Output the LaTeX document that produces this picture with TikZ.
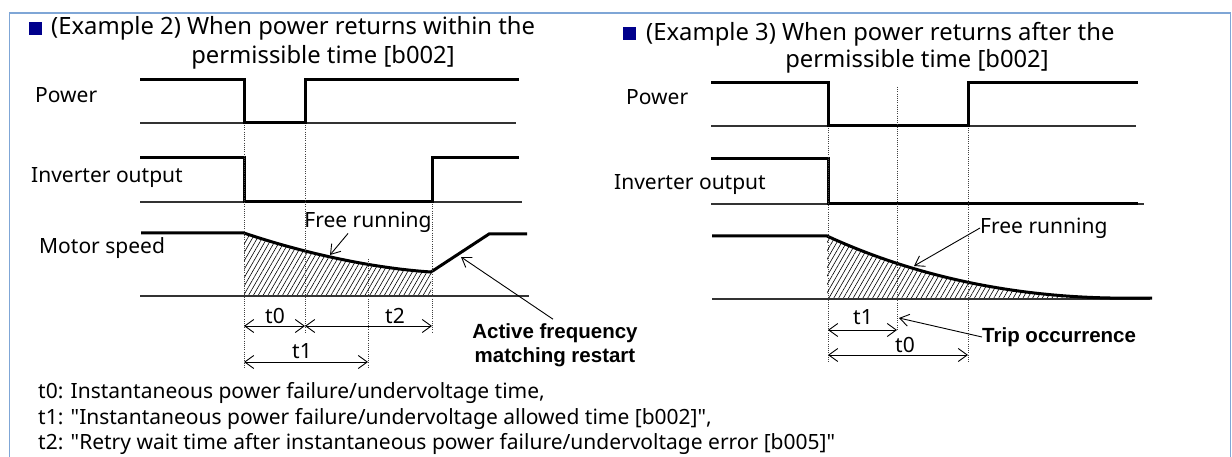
\documentclass[tikz,border=0pt]{standalone}
\usepackage{fontspec}
\setmainfont{Noto Sans}[Ligatures=TeXOff]
\newfontfamily\arialf{Liberation Sans}
\usetikzlibrary{arrows.meta,patterns.meta,calc}
\definecolor{framecol}{RGB}{127,166,214}
\definecolor{navysq}{RGB}{0,0,140}
\begin{document}
\begin{tikzpicture}[x=1pt,y=-1pt,
  sig/.style={line width=3pt, line join=miter, line cap=butt},
  baseln/.style={line width=1.2pt, draw=black!80},
  vdot/.style={line width=0.8pt, draw=black!75, dash pattern=on 1pt off 1.2pt},
  dimarr/.style={line width=0.9pt, {Straight Barb[length=9pt,width=13pt]}-{Straight Barb[length=9pt,width=13pt]}},
  callout/.style={line width=0.9pt, -{Straight Barb[length=9pt,width=12pt]}},
  lbl/.style={font=\fontsize{21}{24}\selectfont, inner sep=0pt},
  ttl/.style={font=\fontsize{23.8}{28}\selectfont, inner sep=0pt},
  boldlbl/.style={font=\arialf\bfseries\fontsize{20.5}{24}\selectfont, inner sep=0pt, align=center},
  hatch/.style={pattern={Lines[angle=60,distance=4.2pt,line width=0.6pt]}},
]
\useasboundingbox (0,0) rectangle (1232,457);
\fill[white] (0,0) rectangle (1232,457);
\draw[framecol, line width=1.5pt] (9.5,13) rectangle (1230.5,480);

% titles
\fill[navysq] (29,22) rectangle (42,35);
\node[ttl, anchor=west] (ttlA1) at (51,28) {(Example 2) When power returns within the};
\node[ttl] (ttlA2) at (323,57) {permissible time [b002]};
\fill[navysq] (623,27) rectangle (636,40);
\node[ttl, anchor=west] (ttlB1) at (646,34) {(Example 3) When power returns after the};
\node[ttl] (ttlB2) at (917,61) {permissible time [b002]};

% left labels
\node[lbl, anchor=west] (pwA) at (35,95) {Power};
\node[lbl, anchor=west] (invA) at (31,178) {Inverter output};
\node[lbl, anchor=west] (motA) at (39,248) {Motor speed};
% right labels
\node[lbl, anchor=west] (pwB) at (626,97) {Power};
\node[lbl, anchor=west] (invB) at (614,185) {Inverter output};

% ---------- left panel ----------
\fill[hatch] (244,296) -- (244,233) .. controls (300,252) and (370,268) .. (431,272) -- (431,296) -- cycle;
\draw[baseln] (140,123) -- (516,123);
\draw[sig] (140,80) -- (244,80) -- (244,123) -- (305,123) -- (305,80) -- (519,80);
\draw[baseln] (140,202) -- (522,202);
\draw[sig] (140,158) -- (244,158) -- (244,202) -- (432,202) -- (432,158) -- (519,158);
\draw[baseln] (140,296) -- (529,296);
\draw[sig] (141,233) -- (244,233) .. controls (300,252) and (370,268) .. (431,272) -- (489,234) -- (527,234);

\draw[vdot] (244,125) -- (244,368);
\draw[vdot] (305,125) -- (305,332);
\draw[vdot] (432,204) -- (432,332);
\draw[vdot] (368,259) -- (368,368);

\coordinate (Aa) at (244,326);
\coordinate (Ab) at (305,326);
\coordinate (Ac) at (432,326);
\coordinate (Ad) at (244,362);
\coordinate (Ae) at (368,362);
\draw[dimarr] (Aa) -- (Ab);
\draw[dimarr] (Ab) -- (Ac);
\draw[dimarr] (Ad) -- (Ae);
\node[lbl] (tA0) at (275,316) {t0};
\node[lbl] (tA2) at (395,316) {t2};
\node[lbl] (tA1) at (302,351) {t1};

\node[lbl] (frA) at (368,222) {Free running};
\coordinate (frAtip) at (330,255);
\draw[callout] ($(frA.south)+(-20,1)$) -- (frAtip);

\node[boldlbl] (afm) at (555,345) {Active frequency\\matching restart};
\coordinate (afmtip) at (461,257);
\draw[callout] ($(afm.north)+(-2,-4)$) -- (afmtip);

% ---------- right panel ----------
\fill[hatch] (827,299) -- (827,236) .. controls (905,272) and (1000,296) .. (1110,298) -- (1110,299) -- cycle;
\draw[baseln] (711,126) -- (1136,126);
\draw[sig] (711,83) -- (828,83) -- (828,126) -- (968,126) -- (968,83) -- (1138,83);
\draw[baseln] (711,204) -- (1144,204);
\draw[sig] (711,159) -- (828,159) -- (828,204) -- (1138,204);
\draw[baseln] (712,299) -- (1150,299);
\draw[sig] (712,236) -- (827,236) .. controls (905,272) and (1000,296) .. (1110,298) -- (1152,298);

\draw[vdot] (828,128) -- (828,362);
\draw[vdot] (897,87) -- (897,330);
\draw[vdot] (968,128) -- (968,362);

\coordinate (Ba) at (828,330);
\coordinate (Bb) at (897,330);
\coordinate (Bc) at (828,355);
\coordinate (Bd) at (968,355);
\draw[dimarr] (Ba) -- (Bb);
\draw[dimarr] (Bc) -- (Bd);
\node[lbl] (tB1) at (863,317) {t1};
\node[lbl] (tB0) at (905,345) {t0};

\node[lbl, anchor=west] (frB) at (980,228) {Free running};
\coordinate (frBtip) at (914,266);
\draw[callout] (frB.west) -- (frBtip);

\node[boldlbl, anchor=west] (trip) at (982,337) {Trip occurrence};
\coordinate (triptip) at (899,318);
\draw[callout] (trip.west) -- (triptip);

% ---------- notes ----------
\node[lbl, anchor=west] (n0) at (38,393) {t0: Instantaneous power failure/undervoltage time,};
\node[lbl, anchor=west] (n1) at (38,419) {t1: "Instantaneous power failure/undervoltage allowed time [b002]",};
\node[lbl, anchor=west] (n2) at (38,444) {t2: "Retry wait time after instantaneous power failure/undervoltage error [b005]"};
\end{tikzpicture}
\end{document}
